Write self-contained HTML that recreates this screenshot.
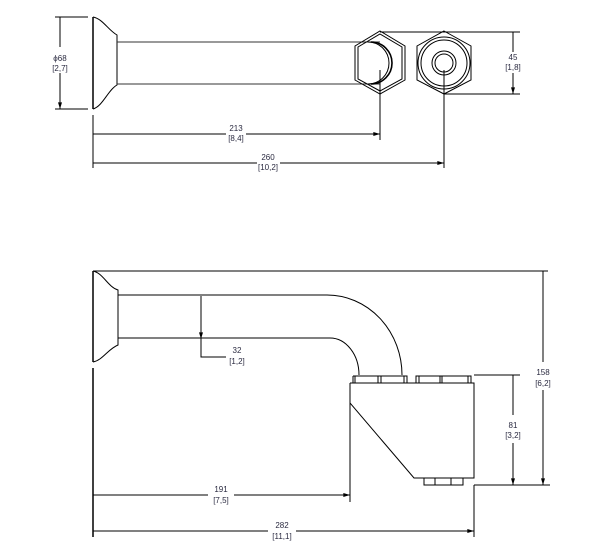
<!DOCTYPE html>
<html><head><meta charset="utf-8"><style>
html,body{margin:0;padding:0;background:#fff;}
svg{display:block;}
text{font-family:"Liberation Sans",sans-serif;font-size:8px;fill:#2a2a40;text-anchor:middle;}
</style></head><body>
<svg width="601" height="556" viewBox="0 0 601 556" xmlns="http://www.w3.org/2000/svg">
<defs>
<marker id="a" viewBox="0 0 10 6" refX="10" refY="3" markerWidth="7" markerHeight="4" orient="auto-start-reverse" markerUnits="userSpaceOnUse"><path d="M0,0 L10,3 L0,6 z" fill="#000"/></marker>
</defs>
<g stroke="#000" stroke-width="1" fill="none">
<!-- TOP VIEW -->
<path d="M93,17 V109" stroke-width="1.5"/>
<path d="M93,17 C103,19 108,30 117,35 V85 C108,90 103,106 93,109"/>
<path d="M117,42 H380 M117,84 H380" stroke="#333"/>
<!-- diameter dim -->
<path d="M55,17 H88 M55,109 H88"/>
<path d="M60,47 V17 M60,73 V109" marker-end="url(#a)"/>
<!-- hex 1 -->
<path d="M380,31 L405,46 L405,80 L380,94 L355,80 L355,46 Z"/>
<path d="M380,34 L402,47 L402,79 L380,91 L358,79 L358,47 Z"/>
<path d="M368,42 A21,21 0 0 1 368,84" />
<path d="M371,42 A21,21 0 0 1 371,84" stroke-width="1.6"/>
<!-- hex 2 -->
<path d="M444,31 L471,46 L471,80 L444,94 L417,80 L417,46 Z"/>
<circle cx="444" cy="63" r="26"/>
<circle cx="444" cy="63" r="23"/>
<circle cx="444" cy="63" r="12"/>
<circle cx="444" cy="63" r="9"/>
<!-- 45 dim -->
<path d="M380,32 H520 M444,94 H520"/>
<path d="M513,52 V32 M513,73 V94" marker-end="url(#a)"/>
<!-- 213 / 260 -->
<path d="M93,115 V168"/>
<path d="M380,70 V140 M444,70 V168"/>
<path d="M226,134 H93 M246,134 H380" marker-end="url(#a)"/>
<path d="M257,163 H93 M280,163 H444" marker-end="url(#a)"/>

<!-- BOTTOM VIEW -->
<path d="M93,271 V362 M93,368 V537" stroke-width="1.5"/>
<path d="M93,271 H548"/>
<path d="M93,271 C103,273 108,287 118,290 V345 C108,349 103,360 93,362"/>
<path d="M118,295 H327 A75,80 0 0 1 402,375"/>
<path d="M118,338 H330 A29,37 0 0 1 359,375"/>
<!-- 32 dim -->
<path d="M201,318 V296 M201,318 V339" marker-end="url(#a)"/>
<path d="M201,339 V357 H226"/>
<!-- block -->
<path d="M353,376 H407 V383 M416,383 V376 H471 V383 M353,376 V383"/>
<path d="M355,376 V383 M378,376 V383 M381,376 V383 M404,376 V383 M419,376 V383 M440,376 V383 M442,376 V383 M468,376 V383"/>
<path d="M350,383 H474 V478 H414 L350,403 V383"/>
<path d="M424,478 V485 H463 V478 M435,478 V485 M451,478 V485"/>
<!-- 81 / 158 dims -->
<path d="M474,375 H520 M474,485 H550"/>
<path d="M513,415 V375 M513,443 V485" marker-end="url(#a)"/>
<path d="M543,362 V271 M543,390 V485" marker-end="url(#a)"/>
<!-- 191 / 282 -->
<path d="M350,403 V502 M474,485 V537"/>
<path d="M208,495 H93 M234,495 H350" marker-end="url(#a)"/>
<path d="M268,531 H93 M296,531 H474" marker-end="url(#a)"/>
</g>
<g>
<text x="60" y="61">ϕ68</text><text x="60" y="71">[2,7]</text>
<text x="513" y="60">45</text><text x="513" y="70">[1,8]</text>
<text x="236" y="131">213</text><text x="236" y="141">[8,4]</text>
<text x="268" y="160">260</text><text x="268" y="170">[10,2]</text>
<text x="237" y="353">32</text><text x="237" y="364">[1,2]</text>
<text x="513" y="428">81</text><text x="513" y="438">[3,2]</text>
<text x="543" y="375">158</text><text x="543" y="386">[6,2]</text>
<text x="221" y="492">191</text><text x="221" y="503">[7,5]</text>
<text x="282" y="528">282</text><text x="282" y="539">[11,1]</text>
</g>
</svg>
</body></html>
